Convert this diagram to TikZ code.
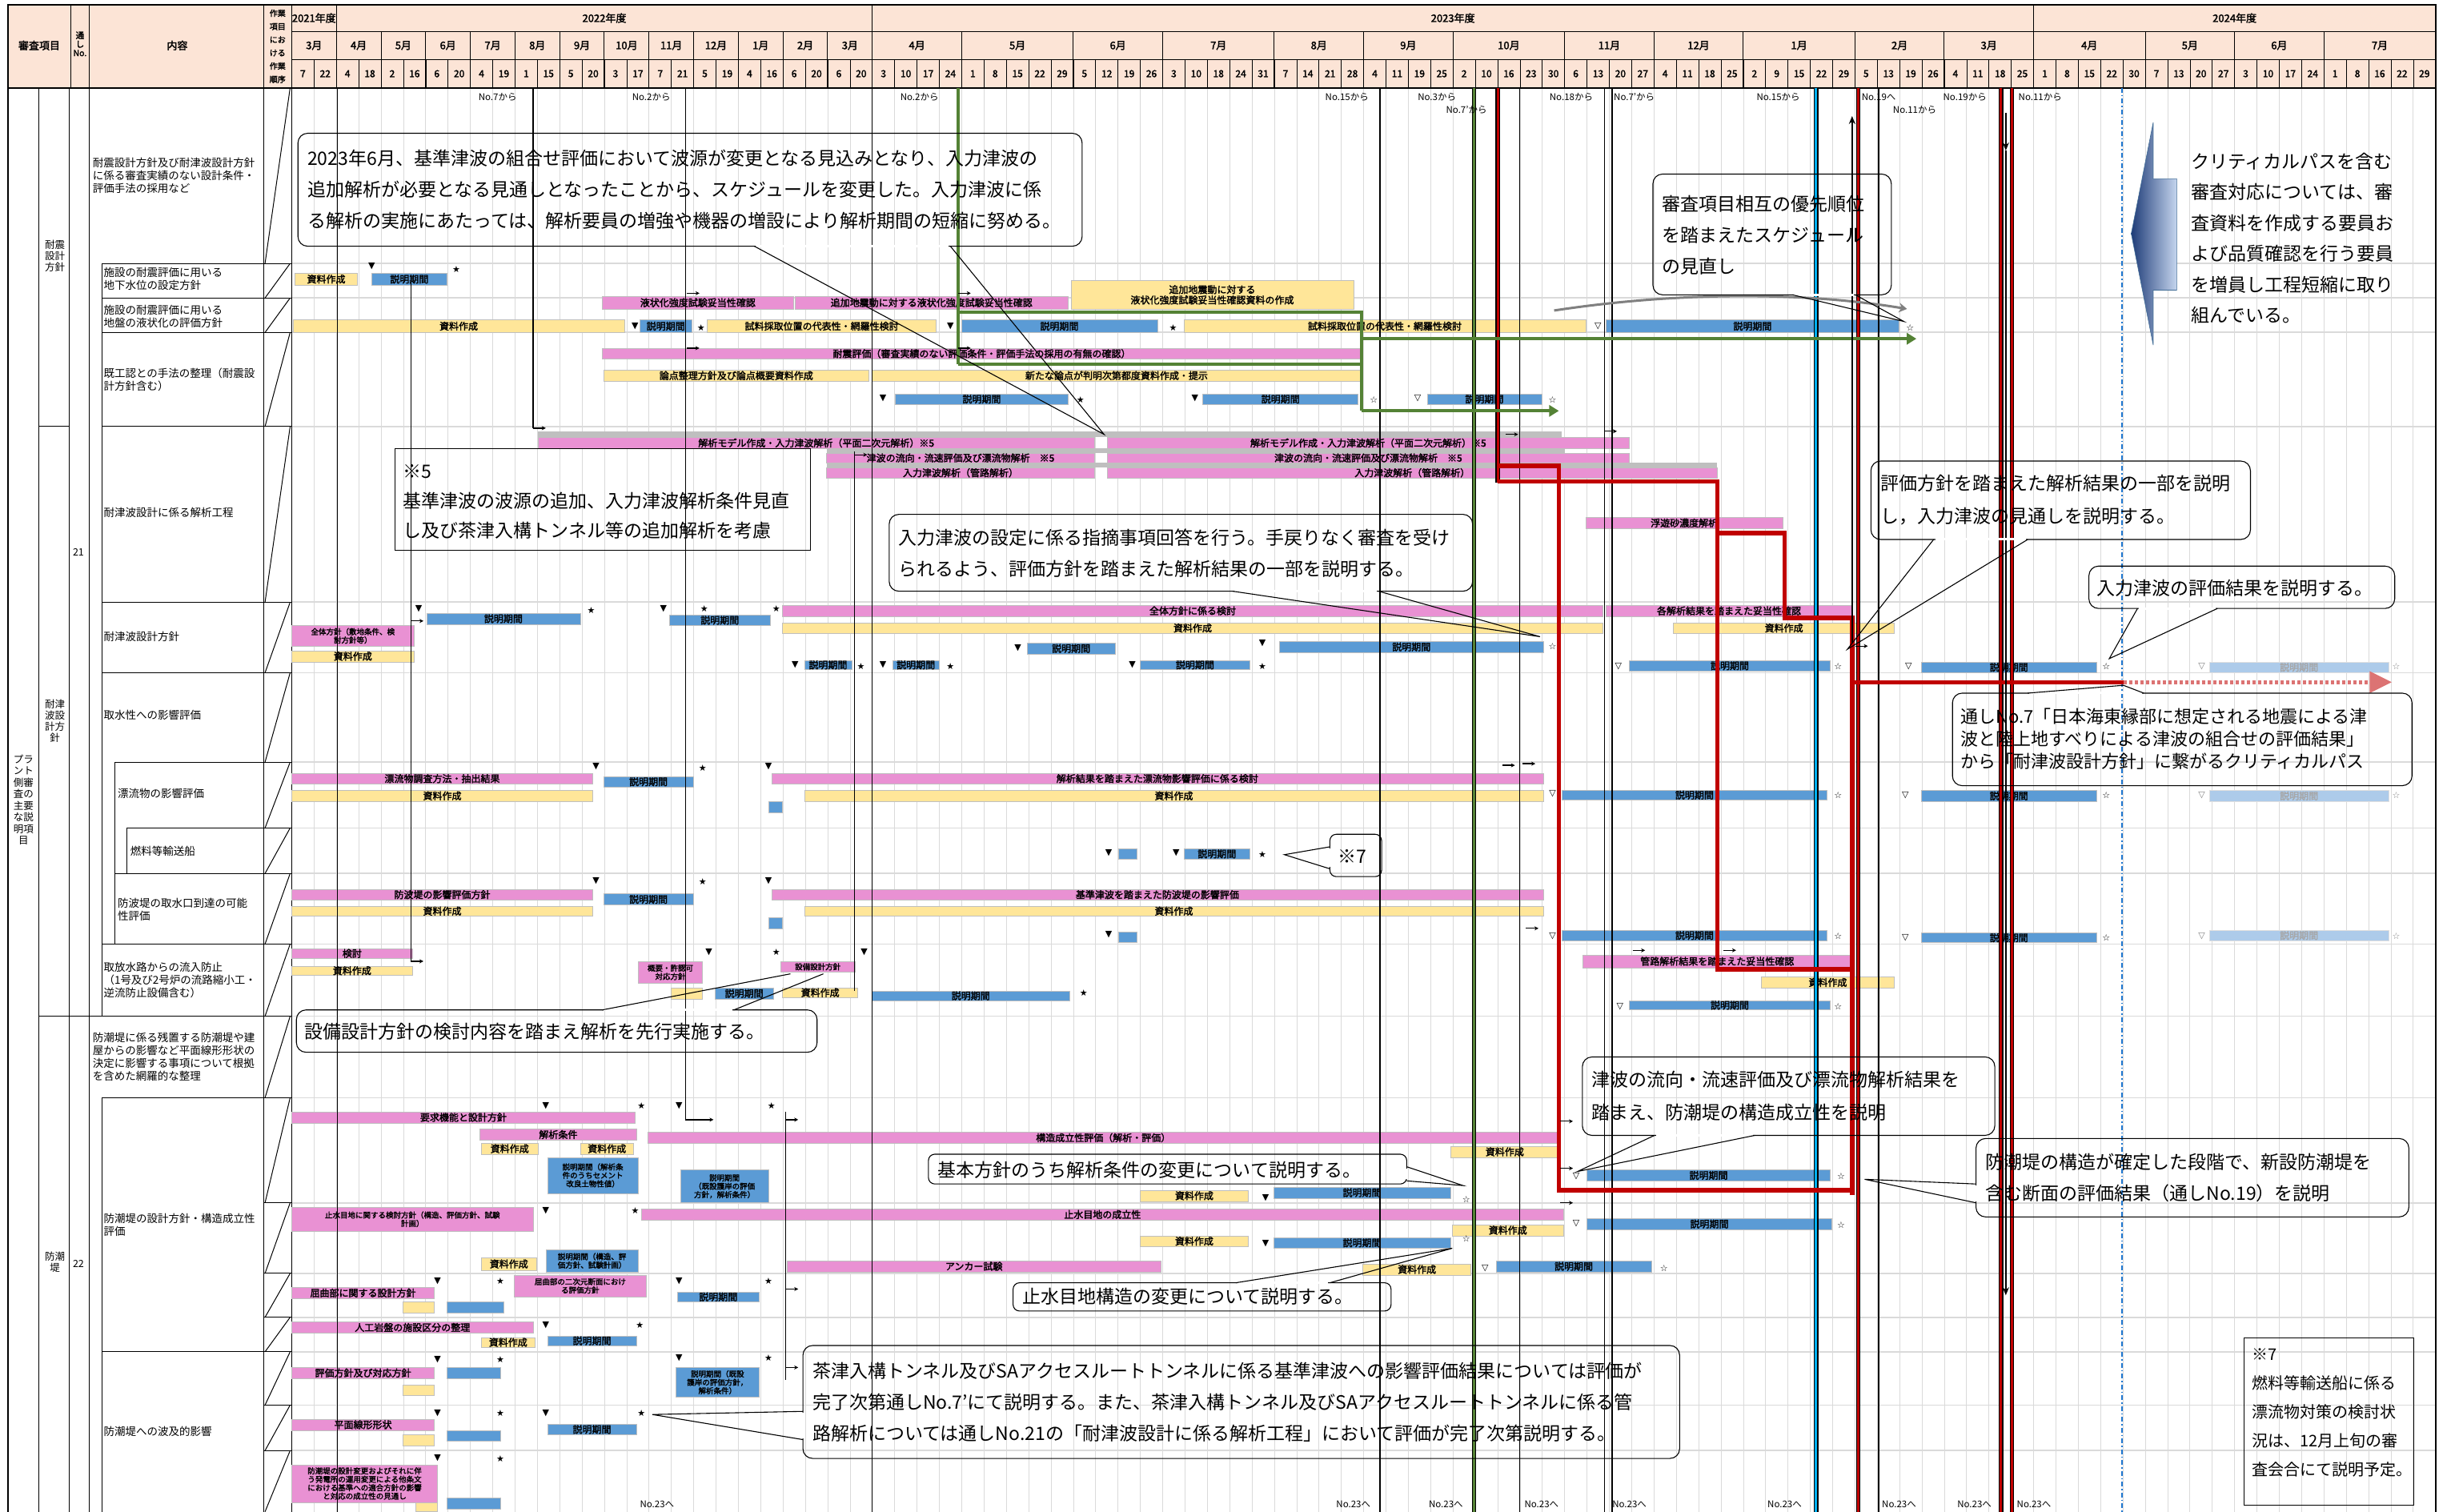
\documentclass[tikz,border=0pt]{standalone}
\usepackage{fontspec}
\setmainfont{Noto Sans CJK JP}
\newfontfamily\symf{DejaVu Sans}
\newfontfamily\jpb[FakeBold=2.2]{Noto Sans CJK JP}
\usetikzlibrary{arrows.meta}
\definecolor{hdr}{HTML}{FCE4D6}
\definecolor{pk}{HTML}{E991D3}
\definecolor{yl}{HTML}{FFE699}
\definecolor{bl}{HTML}{5B9BD5}
\definecolor{fb}{HTML}{ADCBEA}
\definecolor{gb}{HTML}{BFBFBF}
\definecolor{gr}{HTML}{548235}
\definecolor{rd}{HTML}{C00000}
\definecolor{cy}{HTML}{00B0F0}
\definecolor{gridc}{HTML}{DADADA}
\definecolor{navy}{HTML}{1F3C78}
\definecolor{lbl}{HTML}{C5D5EE}
\definecolor{dd}{HTML}{1F77D0}
\tikzset{
 pinkbar/.style={fill=pk,draw=gb,line width=0.5pt},
 yelbar/.style={fill=yl,draw=gb,line width=0.5pt},
 bluebar/.style={fill=bl,draw=gb,line width=0.5pt},
 fadebar/.style={fill=fb,draw=gb!50,line width=0.5pt},
 graybar/.style={fill=gb},
 barlabel/.style={font=\jpb\fontsize{12}{13}\selectfont,inner sep=0pt,align=center},
 barlabelS/.style={font=\jpb\fontsize{9.5}{10.5}\selectfont,inner sep=0pt,align=center},
 mkr/.style={font=\symf\fontsize{11}{11}\selectfont,inner sep=0pt},
 gridv/.style={draw=gridc,line width=0.7pt},
 rowl/.style={draw=gridc,line width=1.8pt},
 frame/.style={draw=black,line width=1pt},
 msl/.style={draw=black,line width=1.3pt},
 smallarr/.style={-{Stealth[length=5pt,width=5pt]},line width=1.3pt},
 cbox/.style={draw=black,line width=1.1pt,rounded corners=12pt},
 ctail/.style={draw=black,line width=1.1pt},
 ctext/.style={font=\fontsize{23}{39}\selectfont,align=left,inner sep=0pt,anchor=west},
 lefttext/.style={font=\fontsize{13.5}{16}\selectfont,align=left,inner sep=0pt,anchor=west},
 hdrtext/.style={font=\fontsize{12}{13}\selectfont,inner sep=0pt,align=center},
 hdrbig/.style={font=\jpb\fontsize{13}{14}\selectfont,inner sep=0pt,align=center},
 nolabel/.style={font=\fontsize{11.5}{11.5}\selectfont,inner sep=0pt,anchor=west},
 critical/.style={draw=rd,line width=5.5pt},
 grnpath/.style={draw=gr,line width=4pt},
}
\newcommand\GB[6]{\path[#1] (#2,#4) rectangle (#3,#5);\node[barlabel] at ({(#2+#3)/2},{(#4+#5)/2}) {#6};}
\newcommand\GBs[6]{\path[#1] (#2,#4) rectangle (#3,#5);\node[barlabelS] at ({(#2+#3)/2},{(#4+#5)/2}) {#6};}
\newcommand\GBf[5]{\path[fadebar] (#1,#3) rectangle (#2,#4);\node[barlabel,text=gray!70] at ({(#1+#2)/2},{(#3+#4)/2}) {#5};}
\newcommand\Mk[3]{\node[mkr] at (#1,#2) {#3};}
\newcommand\Mkf[3]{\node[mkr,text=gray] at (#1,#2) {#3};}
\newcommand\Ra[2]{\draw[smallarr] (#1,#2) -- ++(8,0);}
\newcommand\EdgeL[4]{\draw[black,line width=5.5pt] (#2,#3) -- (#2,#4);\draw[#1,line width=3pt] (#2,#3) -- (#2,#4);}
\begin{document}
\begin{tikzpicture}[x=1.9592pt,y=-1.9592pt]
\useasboundingbox (0,0) rectangle (1568,964);
\fill[white] (0,0) rectangle (1568,964);
% header background
\fill[hdr] (5,3) rectangle (1553,56);
% grid
\foreach \i in {1,...,95} \draw[gridv] ({186+14.24*\i},56) -- ({186+14.24*\i},964);
\foreach \y in {168,190,212,272,384,429,486,528,557,602,648,700,767,812,840,862,896,925} \draw[rowl] (186,\y) -- (1553,\y);
% header grid
\draw[frame] (186,20) -- (1553,20);
\draw[frame] (186,38) -- (1553,38);
\foreach \i in {1,...,95} \draw[frame,line width=0.6pt] ({186+14.24*\i},38) -- ({186+14.24*\i},56);
\foreach \a/\b/\m in {0/2/3月,2/4/4月,4/6/5月,6/8/6月,8/10/7月,10/12/8月,12/14/9月,14/16/10月,16/18/11月,18/20/12月,20/22/1月,22/24/2月,24/26/3月,26/30/4月,30/35/5月,35/39/6月,39/44/7月,44/48/8月,48/52/9月,52/57/10月,57/61/11月,61/65/12月,65/70/1月,70/74/2月,74/78/3月,78/83/4月,83/87/5月,87/91/6月,91/96/7月}{
 \draw[frame] ({186+14.24*\a},20) -- ({186+14.24*\a},56);
 \node[hdrbig] at ({186+14.24*(\a+\b)/2},29) {\m};}
\foreach \a/\b/\yy in {0/2/2021年度,2/26/2022年度,26/78/2023年度,78/96/2024年度}{
 \draw[frame,line width=1.4pt] ({186+14.24*\a},3) -- ({186+14.24*\a},56);
 \node[hdrbig] at ({186+14.24*(\a+\b)/2},11.5) {\yy};}
\foreach \d [count=\i from 0] in {7,22,4,18,2,16,6,20,4,19,1,15,5,20,3,17,7,21,5,19,4,16,6,20,6,20,3,10,17,24,1,8,15,22,29,5,12,19,26,3,10,18,24,31,7,14,21,28,4,11,19,25,2,10,16,23,30,6,13,20,27,4,11,18,25,2,9,15,22,29,5,13,19,26,4,11,18,25,1,8,15,22,30,7,13,20,27,3,10,17,24,1,8,16,22,29}
 \node[hdrbig,font=\jpb\fontsize{12}{12}\selectfont] at ({186+14.24*(\i+0.5)},47) {\d};
% left header
\draw[frame] (45,3) -- (45,56);
\draw[frame] (57,3) -- (57,56);
\draw[frame] (168,3) -- (168,56);
\node[hdrbig] (h1) at (25,29) {審査項目};
\node[hdrtext,font=\jpb\fontsize{10.5}{11}\selectfont] (h2) at (51,28) {通\\し\\No.};
\node[hdrbig] (h3) at (113,29) {内容};
\node[hdrtext,font=\jpb\fontsize{10}{16.5}\selectfont] (h4) at (177,29.5) {作業\\項目\\にお\\ける\\作業\\順序};
% body left structure
\draw[frame] (25,56) -- (25,964);
\draw[frame] (44,56) -- (44,964);
\draw[frame] (57,56) -- (57,964);
\draw[frame] (168,56) -- (168,964);
\draw[frame] (25,272) -- (44,272);
\draw[frame] (25,648) -- (186,648);
\draw[frame] (65,168) -- (65,648);
\draw[frame] (65,700) -- (65,964);
\foreach \y in {168,190,212,272,384,429,602,700,862} \draw[frame] (65,\y) -- (186,\y);
\foreach \y in {486,557} \draw[frame] (73,\y) -- (186,\y);
\draw[frame] (73,486) -- (73,602);
\draw[frame] (81,528) -- (186,528);
\draw[frame] (81,528) -- (81,557);
\foreach \y in {767,812,840,896,925} \draw[frame] (168,\y) -- (186,\y);
\foreach \a/\b in {56/168,168/190,190/212,212/272,272/384,384/429,429/486,486/528,528/557,557/602,602/648,648/700,700/767,767/812,812/840,840/862,862/896,896/925,925/964}
 \draw[frame] (169,\b) -- (185,\a);
\draw[black,line width=2pt] (5,3) rectangle (1553,972);
\draw[black,line width=1.8pt] (5,56) -- (1553,56);
\draw[black,line width=1.8pt] (186,3) -- (186,964);
% left texts
\node[hdrtext,font=\fontsize{12.5}{14.5}\selectfont] (v1) at (15,510) {プラ\\ント\\側審\\査の\\主要\\な説\\明項\\目};
\node[hdrtext,font=\fontsize{12.5}{14}\selectfont] (v2) at (35,163) {耐震\\設計\\方針};
\node[hdrtext,font=\fontsize{12.5}{14}\selectfont] (v3) at (35,460) {耐津\\波設\\計方\\針};
\node[hdrtext,font=\fontsize{12.5}{14}\selectfont] (v4) at (35,805) {防潮\\堤};
\node[hdrtext,font=\fontsize{12.5}{12}\selectfont] (n21) at (50,352) {21};
\node[hdrtext,font=\fontsize{12.5}{12}\selectfont] (n22) at (50,806) {22};
\node[lefttext] (tA) at (59,112) {耐震設計方針及び耐津波設計方針\\に係る審査実績のない設計条件・\\評価手法の採用など};
\node[lefttext] (tB) at (66,178) {施設の耐震評価に用いる\\地下水位の設定方針};
\node[lefttext] (tC) at (66,202) {施設の耐震評価に用いる\\地盤の液状化の評価方針};
\node[lefttext] (tD) at (66,242) {既工認との手法の整理（耐震設\\計方針含む）};
\node[lefttext] (tE) at (66,327) {耐津波設計に係る解析工程};
\node[lefttext] (tF) at (66,406) {耐津波設計方針};
\node[lefttext] (tG) at (66,456) {取水性への影響評価};
\node[lefttext] (tH) at (75,506) {漂流物の影響評価};
\node[lefttext] (tI) at (83,543) {燃料等輸送船};
\node[lefttext] (tJ) at (75,580) {防波堤の取水口到達の可能\\性評価};
\node[lefttext] (tK) at (66,625) {取放水路からの流入防止\\（1号及び2号炉の流路縮小工・\\逆流防止設備含む）};
\node[lefttext] (tL) at (59,674) {防潮堤に係る残置する防潮堤や建\\屋からの影響など平面線形形状の\\決定に影響する事項について根拠\\を含めた網羅的な整理};
\node[lefttext] (tM) at (66,781) {防潮堤の設計方針・構造成立性\\評価};
\node[lefttext] (tN) at (66,913) {防潮堤への波及的影響};
% ===== bars =====
% row B
\GB{yelbar}{188}{228}{174}{182}{資料作成}
\GB{bluebar}{237}{285}{174}{182}{説明期間}
% row C
\GB{pinkbar}{384}{506}{189}{197}{液状化強度試験妥当性確認}
\GB{pinkbar}{507}{681}{189}{197}{追加地震動に対する液状化強度試験妥当性確認}
\GB{yelbar}{683}{863}{179}{197}{追加地震動に対する\\液状化強度試験妥当性確認資料の作成}
\GB{yelbar}{187}{398}{204}{212}{資料作成}
\GB{bluebar}{408}{441}{204}{212}{説明期間}
\GB{yelbar}{451}{597}{204}{212}{試料採取位置の代表性・網羅性検討}
\GB{bluebar}{613}{738}{204}{212}{説明期間}
\GB{yelbar}{755}{1011}{204}{212}{試料採取位置の代表性・網羅性検討}
\GB{bluebar}{1024}{1211}{204}{212}{説明期間}
% row D
\GB{pinkbar}{384}{868}{222}{229}{耐震評価（審査実績のない評価条件・評価手法の採用の有無の確認）}
\GB{yelbar}{385}{554}{236}{243}{論点整理方針及び論点概要資料作成}
\GB{yelbar}{556}{868}{236}{243}{新たな論点が判明次第都度資料作成・提示}
\GB{bluebar}{571}{681}{251}{258}{説明期間}
\GB{bluebar}{767}{866}{251}{258}{説明期間}
\GB{bluebar}{910}{983}{251}{258}{説明期間}
% row E
\path[graybar] (343,275) rectangle (996,278.5);
\path[graybar] (527,286) rectangle (998,289);
\path[graybar] (527,295) rectangle (1095,298);
\GB{pinkbar}{343}{698}{279}{286}{解析モデル作成・入力津波解析（平面二次元解析）※5}
\GB{pinkbar}{706}{1039}{279}{286}{解析モデル作成・入力津波解析（平面二次元解析）※5}
\GB{pinkbar}{527}{698}{289}{295}{津波の流向・流速評価及び漂流物解析　※5}
\GB{pinkbar}{706}{1039}{289}{295}{津波の流向・流速評価及び漂流物解析　※5}
\GB{pinkbar}{527}{698}{298}{305}{入力津波解析（管路解析）}
\GB{pinkbar}{706}{1095}{298}{305}{入力津波解析（管路解析）}
\GB{pinkbar}{1011}{1137}{330}{337}{浮遊砂濃度解析}
% row F
\GB{bluebar}{272}{370}{391}{398}{説明期間}
\GBs{pinkbar}{186}{264}{399}{412}{全体方針（敷地条件、検\\討方針等）}
\GB{yelbar}{186}{264}{415}{422}{資料作成}
\GB{bluebar}{427}{491}{392}{399}{説明期間}
\GB{pinkbar}{499}{1022}{386}{393}{全体方針に係る検討}
\GB{pinkbar}{1024}{1181}{386}{393}{各解析結果を踏まえた妥当性確認}
\GB{yelbar}{499}{1022}{397}{404}{資料作成}
\GB{yelbar}{1067}{1208}{397}{404}{資料作成}
\GB{bluebar}{655}{711}{410}{417}{説明期間}
\GB{bluebar}{816}{984}{409}{416}{説明期間}
\GB{bluebar}{513}{543}{421}{427}{説明期間}
\GB{bluebar}{569}{599}{421}{427}{説明期間}
\GB{bluebar}{727}{797}{421}{427}{説明期間}
\GB{bluebar}{1039}{1167}{421}{428}{説明期間}
\GB{bluebar}{1225}{1337}{422}{429}{説明期間}
\GBf{1409}{1523}{422}{429}{説明期間}
% row H
\GB{pinkbar}{186}{378}{493}{500}{漂流物調査方法・抽出結果}
\GB{yelbar}{186}{378}{504}{511}{資料作成}
\GB{bluebar}{385}{442}{495}{502}{説明期間}
\GB{pinkbar}{492}{984}{493}{500}{解析結果を踏まえた漂流物影響評価に係る検討}
\GB{yelbar}{513}{984}{504}{511}{資料作成}
\GB{bluebar}{490}{499}{511}{518}{}
\GB{bluebar}{996}{1165}{504}{510}{説明期間}
\GB{bluebar}{1225}{1337}{504}{511}{説明期間}
\GBf{1409}{1523}{504}{511}{説明期間}
% row I
\GB{bluebar}{713}{725}{541}{548}{}
\GB{bluebar}{755}{797}{541}{548}{説明期間}
% row J
\GB{pinkbar}{186}{378}{567}{574}{防波堤の影響評価方針}
\GB{yelbar}{186}{378}{578}{584}{資料作成}
\GB{bluebar}{385}{442}{570}{577}{説明期間}
\GB{pinkbar}{492}{984}{567}{574}{基準津波を踏まえた防波堤の影響評価}
\GB{yelbar}{513}{984}{578}{584}{資料作成}
\GB{bluebar}{490}{499}{585}{592}{}
\GB{bluebar}{713}{725}{594}{601}{}
\GB{bluebar}{996}{1165}{593}{600}{説明期間}
\GB{bluebar}{1225}{1337}{595}{601}{説明期間}
\GBf{1409}{1523}{593}{600}{説明期間}
% row K
\GB{pinkbar}{186}{263}{605}{611}{検討}
\GB{yelbar}{186}{263}{616}{622}{資料作成}
\GBs{pinkbar}{407}{448}{613}{627}{概要・許認可\\対応方針}
\GBs{pinkbar}{498}{545}{613}{620}{設備設計方針}
\GB{yelbar}{428}{448}{630}{637}{}
\GB{bluebar}{456}{493}{630}{637}{説明期間}
\GB{yelbar}{499}{547}{630}{636}{資料作成}
\GB{bluebar}{556}{682}{632}{638}{説明期間}
\GB{pinkbar}{1009}{1181}{609}{617}{管路解析結果を踏まえた妥当性確認}
\GB{yelbar}{1123}{1208}{623}{630}{資料作成}
\GB{bluebar}{1039}{1167}{638}{644}{説明期間}
% row M
\GB{pinkbar}{186}{405}{709}{716}{要求機能と設計方針}
\GB{pinkbar}{306}{406}{720}{727}{解析条件}
\GB{pinkbar}{413}{994}{722}{729}{構造成立性評価（解析・評価）}
\GB{yelbar}{307}{343}{729}{736}{資料作成}
\GB{yelbar}{370}{404}{729}{736}{資料作成}
\GBs{bluebar}{349}{407}{738}{761}{説明期間（解析条\\件のうちセメント\\改良土物性値）}
\GBs{bluebar}{434}{490}{746}{767}{説明期間\\（既設護岸の評価\\方針，解析条件）}
\GB{yelbar}{925}{994}{731}{738}{資料作成}
\GB{yelbar}{727}{796}{759}{766}{資料作成}
\GB{bluebar}{812}{925}{757}{764}{説明期間}
\GB{bluebar}{1012}{1167}{746}{753}{説明期間}
\GBs{pinkbar}{186}{340}{770}{785}{止水目地に関する検討方針（構造、評価方針、試験\\計画）}
\GB{pinkbar}{409}{997}{771}{778}{止水目地の成立性}
\GB{yelbar}{926}{997}{781}{788}{資料作成}
\GB{yelbar}{727}{796}{788}{795}{資料作成}
\GB{bluebar}{812}{925}{789}{796}{説明期間}
\GB{bluebar}{1012}{1168}{777}{784}{説明期間}
\GB{yelbar}{307}{342}{802}{810}{資料作成}
\GBs{bluebar}{348}{407}{797}{811}{説明期間（構造、評\\価方針、試験計画）}
\GB{pinkbar}{502}{740}{804}{811}{アンカー試験}
\GB{yelbar}{869}{938}{806}{813}{資料作成}
\GB{bluebar}{954}{1053}{804}{811}{説明期間}
\GB{pinkbar}{186}{277}{821}{828}{屈曲部に関する設計方針}
\GBs{pinkbar}{328}{412}{813}{827}{屈曲部の二次元断面におけ\\る評価方針}
\GB{yelbar}{257}{277}{830}{837}{}
\GB{bluebar}{285}{321}{830}{837}{}
\GB{bluebar}{432}{484}{824}{830}{説明期間}
\GB{pinkbar}{186}{340}{843}{850}{人工岩盤の施設区分の整理}
\GB{yelbar}{307}{341}{853}{859}{資料作成}
\GB{bluebar}{349}{406}{852}{858}{説明期間}
% row N
\GB{pinkbar}{186}{277}{872}{879}{評価方針及び対応方針}
\GB{bluebar}{285}{319}{872}{879}{}
\GB{yelbar}{257}{277}{883}{890}{}
\GBs{bluebar}{431}{484}{872}{891}{説明期間（既設\\護岸の評価方針，\\解析条件）}
\GB{pinkbar}{186}{277}{905}{912}{平面線形形状}
\GB{bluebar}{285}{319}{912}{919}{}
\GB{yelbar}{257}{277}{915}{922}{}
\GB{bluebar}{349}{406}{908}{915}{説明期間}
\GBs{pinkbar}{186}{279}{934}{958}{防潮堤の設計変更およびそれに伴\\う発電所の運用変更による他条文\\における基準への適合方針の影響\\と対応の成立性の見通し}
\GB{bluebar}{285}{319}{955}{962}{}
\GB{yelbar}{265}{279}{958}{964}{}
% ===== milestone lines =====
\draw[msl] (215,56) -- (215,964);
\draw[msl] (262,175) -- (262,613);
\draw[msl] (340,56) -- (340,273);
\draw[msl] (437,56) -- (437,714);
\draw[msl] (545,288) -- (545,632);
\draw[msl] (501,709) -- (501,880);
\draw[msl] (556,56) -- (556,964);
\draw[msl] (880,56) -- (880,964);
\draw[msl] (969,56) -- (969,964);
\draw[msl] (1023,56) -- (1023,964);
\draw[msl] (1028,56) -- (1028,964);
\draw[msl] (1198,56) -- (1198,964);
\EdgeL{gr}{940}{56}{964}
\EdgeL{rd}{955}{56}{308}
\EdgeL{cy}{1158}{56}{964}
\EdgeL{rd}{1185}{56}{964}
\EdgeL{rd}{1276}{56}{964}
\EdgeL{rd}{1283}{56}{964}
\draw[dd,line width=1.5pt,dash pattern=on 6pt off 3pt on 1.5pt off 3pt] (1353,56) -- (1353,964);
% green path
\draw[grnpath] (611,56) -- (611,232);
\draw[grnpath] (611,199) -- (868,199) -- (868,262);
\draw[grnpath] (611,232) -- (868,232);
\draw[grnpath,-{Triangle[length=12pt,width=14pt]}] (868,216) -- (1222,216);
\draw[grnpath,-{Triangle[length=12pt,width=14pt]}] (868,262) -- (994,262);
% gray curved arrow
\draw[gray,line width=3pt,-{Stealth[length=10pt,width=12pt]}] (991,198) .. controls (1070,186) and (1150,186) .. (1216,197);
% critical path
\draw[critical] (955,297) -- (994,297) -- (994,759) -- (1181,759);
\draw[critical] (955,307) -- (1095,307) -- (1095,618) -- (1181,618);
\draw[critical] (1095,340) -- (1138,340) -- (1138,394) -- (1181,394) -- (1181,762);
\draw[critical] (1181,435) -- (1354,435);
\draw[rd!55,line width=5.5pt,dash pattern=on 4pt off 3pt] (1354,435) -- (1512,435);
\fill[rd!55] (1511,428) -- (1525,435) -- (1511,442) -- cycle;
% black long arrows
\draw[line width=1.8pt,-{Stealth[length=10pt,width=8pt]}] (1181,410) -- (1181,74);
\draw[line width=1.8pt,-{Stealth[length=10pt,width=8pt]}] (1279,72) -- (1279,96);
\draw[line width=1.8pt,-{Stealth[length=10pt,width=8pt]}] (1279,96) -- (1279,826);
% small arrows
\Ra{438}{187} \Ra{611}{187} \Ra{438}{222} \Ra{611}{222}
\Ra{340}{273} \Ra{545}{290} \Ra{960}{277} \Ra{1023}{275}
\Ra{262}{396} \Ra{1183}{412} \Ra{958}{488} \Ra{971}{487} \Ra{973}{592}
\Ra{262}{613} \Ra{1041}{606} \Ra{1099}{606}
\draw[smallarr] (437,714) -- (455,714);
\Ra{501}{714} \Ra{995}{715} \Ra{995}{745} \Ra{995}{767} \Ra{501}{822} \Ra{501}{872}
% ===== markers =====
\Mk{237}{170}{▼} \Mk{291}{172}{★}
\Mk{405}{208}{▼} \Mk{447}{209}{★} \Mk{606}{208}{▼} \Mk{748}{209}{★} \Mk{1019}{208}{▽} \Mk{1218}{209}{☆}
\Mk{563}{254}{▼} \Mk{689}{255}{★} \Mk{762}{254}{▼} \Mk{876}{255}{☆} \Mk{904}{254}{▽} \Mk{990}{255}{☆}
\Mk{267}{388}{▼} \Mk{377}{389}{★} \Mk{423}{388}{▼} \Mk{449}{388}{★} \Mk{495}{388}{★}
\Mk{649}{413}{▼} \Mk{805}{410}{▼} \Mk{990}{412}{☆}
\Mk{507}{424}{▼} \Mk{549}{425}{★} \Mk{563}{424}{▼} \Mk{606}{425}{★} \Mk{722}{424}{▼} \Mk{805}{425}{★}
\Mk{1032}{425}{▽} \Mk{1172}{425}{☆} \Mk{1217}{425}{▽} \Mk{1343}{425}{☆} \Mkf{1404}{425}{▽} \Mkf{1528}{425}{☆}
\Mk{380}{489}{▼} \Mk{448}{490}{★} \Mk{490}{489}{▼}
\Mk{990}{506}{▽} \Mk{1172}{507}{☆} \Mk{1215}{507}{▽} \Mk{1343}{507}{☆} \Mkf{1404}{507}{▽} \Mkf{1528}{507}{☆}
\Mk{707}{544}{▼} \Mk{750}{544}{▼} \Mk{805}{545}{★}
\Mk{380}{562}{▼} \Mk{448}{562}{★} \Mk{490}{562}{▼} \Mk{707}{596}{▼}
\Mk{990}{597}{▽} \Mk{1172}{597}{☆} \Mk{1215}{598}{▽} \Mk{1343}{598}{☆} \Mkf{1404}{597}{▽} \Mkf{1528}{597}{☆}
\Mk{452}{607}{▼} \Mk{495}{607}{★} \Mk{551}{607}{▼} \Mk{691}{633}{★}
\Mk{1033}{642}{▽} \Mk{1172}{642}{☆}
\Mk{348}{705}{▼} \Mk{409}{705}{★} \Mk{433}{705}{▼} \Mk{492}{705}{★}
\Mk{807}{764}{▼} \Mk{935}{765}{☆} \Mk{1005}{750}{▽} \Mk{1174}{750}{☆}
\Mk{348}{772}{▼} \Mk{405}{772}{★} \Mk{807}{793}{▼} \Mk{935}{790}{☆} \Mk{1005}{780}{▽} \Mk{1174}{781}{☆}
\Mk{947}{809}{▽} \Mk{1061}{809}{☆}
\Mk{279}{817}{▼} \Mk{319}{817}{★} \Mk{433}{817}{▼} \Mk{490}{817}{★}
\Mk{348}{845}{▼} \Mk{408}{845}{★}
\Mk{279}{867}{▼} \Mk{319}{867}{★} \Mk{433}{866}{▼} \Mk{490}{866}{★}
\Mk{279}{901}{▼} \Mk{319}{901}{★} \Mk{348}{901}{▼} \Mk{409}{901}{★}
\Mk{279}{930}{▼} \Mk{319}{930}{★}
% ===== No. labels =====
\node[nolabel] at (305,62) {No.7から};
\node[nolabel] at (403,62) {No.2から};
\node[nolabel] at (574,62) {No.2から};
\node[nolabel] at (845,62) {No.15から};
\node[nolabel] at (904,62) {No.3から};
\node[nolabel] at (922,70) {No.7'から};
\node[nolabel] at (988,62) {No.18から};
\node[nolabel] at (1029,62) {No.7'から};
\node[nolabel] at (1120,62) {No.15から};
\node[nolabel] at (1187,62) {No.19へ};
\node[nolabel] at (1207,70) {No.11から};
\node[nolabel] at (1239,62) {No.19から};
\node[nolabel] at (1287,62) {No.11から};
\foreach \x in {408,852,911,972,1028,1127,1200,1248,1286} \node[nolabel] at (\x,959) {No.23へ};
% ===== callouts =====
\draw[cbox] (190,85) rectangle (690,157);
\draw[white,line width=3pt] (482,157) -- (605,157);
\draw[ctail] (481,157) -- (704,277) -- (606,157);
\node[ctext] (c1) at (196,121) {2023年6月、基準津波の組合せ評価において波源が変更となる見込みとなり、入力津波の\\追加解析が必要となる見通しとなったことから、スケジュールを変更した。入力津波に係\\る解析の実施にあたっては、解析要員の増強や機器の増設により解析期間の短縮に努める。};
\draw[cbox] (1054,111) rectangle (1206,188);
\draw[white,line width=3pt] (1144,188) -- (1182,188);
\draw[ctail] (1143,188) -- (1214,205) -- (1183,188);
\node[ctext] (c2) at (1060,150) {審査項目相互の優先順位\\を踏まえたスケジュール\\の見直し};
\shadedraw[left color=navy,right color=lbl,draw=bl!70!black,line width=0.6pt] (1359,149) -- (1373,78) -- (1373,114) -- (1388,114) -- (1388,185) -- (1373,185) -- (1373,220) -- cycle;
\node[ctext,font=\fontsize{23}{38.5}\selectfont] (c16) at (1397,152) {クリティカルパスを含む\\審査対応については、審\\査資料を作成する要員お\\よび品質確認を行う要員\\を増員し工程短縮に取り\\組んでいる。};
\draw[black,line width=1.1pt] (252,286) rectangle (517,351);
\node[ctext,font=\fontsize{23}{37}\selectfont] (c3) at (257,320) {※5\\基準津波の波源の追加、入力津波解析条件見直\\し及び茶津入構トンネル等の追加解析を考慮};
\draw[cbox] (567,328) rectangle (939,377);
\draw[white,line width=3pt] (787,377) -- (878,377);
\draw[ctail] (786,377) -- (982,406) -- (879,377);
\node[ctext] (c4) at (573,353) {入力津波の設定に係る指摘事項回答を行う。手戻りなく審査を受け\\られるよう、評価方針を踏まえた解析結果の一部を説明する。};
\draw[cbox] (1193,294) rectangle (1435,344);
\draw[white,line width=3pt] (1234,344) -- (1292,344);
\draw[ctail] (1233,344) -- (1178,414) -- (1293,344);
\node[ctext,font=\fontsize{23}{41}\selectfont] (c5) at (1199,319) {評価方針を踏まえた解析結果の一部を説明\\し，入力津波の見通しを説明する。};
\draw[cbox] (1332,361) rectangle (1527,388);
\draw[white,line width=3pt] (1364,388) -- (1413,388);
\draw[ctail] (1363,388) -- (1345,420) -- (1414,388);
\node[ctext] (c6) at (1337,375) {入力津波の評価結果を説明する。};
\draw[cbox] (1245,442) rectangle (1538,501);
\draw[white,line width=3pt] (1294,442) -- (1366,442);
\draw[ctail] (1293,442) -- (1354,437) -- (1367,442);
\node[ctext,font=\fontsize{22}{28}\selectfont] (c7) at (1250,471) {通しNo.7「日本海東縁部に想定される地震による津\\波と陸上地すべりによる津波の組合せの評価結果」\\から「耐津波設計方針」に繋がるクリティカルパス};
\draw[cbox,rounded corners=8pt] (848,532) rectangle (881,559);
\draw[white,line width=3pt] (848,541) -- (848,553);
\draw[ctail] (848,540) -- (819,545) -- (848,554);
\node[ctext] (c8) at (853,546) {※7};
\draw[cbox] (189,644) rectangle (521,671);
\draw[white,line width=3pt] (385,644) -- (467,644);
\draw[ctail] (384,644) -- (504,621);
\draw[ctail] (468,644) -- (525,621);
\node[ctext] (c9) at (194,658) {設備設計方針の検討内容を踏まえ解析を先行実施する。};
\draw[cbox,rounded corners=8pt] (592,736) rectangle (897,755);
\draw[white,line width=3pt] (897,745) -- (897,752);
\draw[ctail] (897,744) -- (933,756) -- (897,753);
\node[ctext] (c10) at (598,746) {基本方針のうち解析条件の変更について説明する。};
\draw[cbox,rounded corners=8pt] (646,818) rectangle (887,836);
\draw[white,line width=3pt] (789,818) -- (847,818);
\draw[ctail] (788,818) -- (926,796) -- (848,818);
\node[ctext] (c11) at (652,827) {止水目地構造の変更について説明する。};
\draw[cbox] (1009,674) rectangle (1272,724);
\draw[white,line width=3pt] (1056,724) -- (1118,724);
\draw[ctail] (1055,724) -- (1006,747) -- (1119,724);
\node[ctext,font=\fontsize{23}{41}\selectfont] (c12) at (1015,699) {津波の流向・流速評価及び漂流物解析結果を\\踏まえ、防潮堤の構造成立性を説明};
\draw[cbox] (1260,726) rectangle (1536,776);
\draw[white,line width=3pt] (1260,756) -- (1260,766);
\draw[ctail] (1260,755) -- (1189,752) -- (1260,767);
\node[ctext] (c13) at (1266,751) {防潮堤の構造が確定した段階で、新設防潮堤を\\含む断面の評価結果（通しNo.19）を説明};
\draw[cbox] (512,858) rectangle (1071,930);
\draw[white,line width=3pt] (512,901) -- (512,917);
\draw[ctail] (512,900) -- (416,902) -- (512,918);
\node[ctext] (c14) at (518,894) {茶津入構トンネル及びSAアクセスルートトンネルに係る基準津波への影響評価結果については評価が\\完了次第通しNo.7'にて説明する。また、茶津入構トンネル及びSAアクセスルートトンネルに係る管\\路解析については通しNo.21の「耐津波設計に係る解析工程」において評価が完了次第説明する。};
\draw[black,line width=1.1pt] (1431,853) rectangle (1539,960);
\node[ctext,font=\fontsize{20}{36}\selectfont] (c15) at (1436,901) {※7\\燃料等輸送船に係る\\漂流物対策の検討状\\況は、12月上旬の審\\査会合にて説明予定。};
\end{tikzpicture}
\end{document}
